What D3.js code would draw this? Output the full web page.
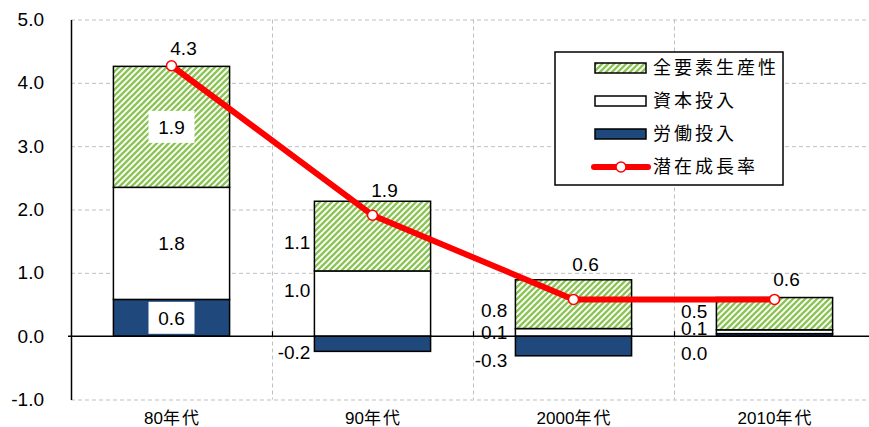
<!DOCTYPE html>
<html>
<head>
<meta charset="utf-8">
<script src="https://cdn.jsdelivr.net/npm/d3@7"></script>
<style>
  html, body { margin: 0; padding: 0; background: #fff; }
  svg { display: block; }
  text { font-family: "Liberation Sans", Arial, "Noto Sans CJK JP", sans-serif; fill: #000; }
</style>
</head>
<body>
<svg id="chart" width="869" height="427"></svg>
<script>
// ---- data ----
const categories = ["80年代", "90年代", "2000年代", "2010年代"];
const seriesNames = ["全要素生産性", "資本投入", "労働投入", "潜在成長率"];
const laborInput   = [0.58, -0.24, -0.31, 0.04];   // 労働投入
const capitalInput = [1.77, 1.03, 0.12, 0.06];     // 資本投入
const tfp          = [1.91, 1.10, 0.77, 0.51];     // 全要素生産性
const potentialGrowth = [4.27, 1.91, 0.58, 0.58];  // 潜在成長率
const yTicks = [-1, 0, 1, 2, 3, 4, 5];

// ---- label layout ----
const insideLabels = [true, false, false, false];      // 80年代 labels sit inside the bar
const sideGap = [0, 4, 8, 9];                          // gap between side labels and bar
const sideNudge = {                                    // vertical nudges of side labels
  tfp:     [0, 6, 6, -3],
  capital: [0, -13, 0, -4],
  labor:   [0, 8, 14, 18]
};
const totalLift = [18, 11, 16, 18];                    // total label above bar top

// ---- layout ----
const W = 869, H = 427;
const plot = { left: 71, right: 875, top: 19.5, bottom: 399.5 };
const svg = d3.select("#chart");

const x = d3.scaleBand().domain(categories).range([plot.left, plot.right]).padding(0);
const y = d3.scaleLinear().domain([-1, 5]).range([plot.bottom, plot.top]);
const barW = x.bandwidth() * 0.578;
const cx = c => x(c) + x.bandwidth() / 2;

const GREEN = "#8CC456", BLUE = "#1F497D", RED = "#FF0000";
const fmt1 = d3.format(".1f");
const fmt = v => fmt1(v).replace("\u2212", "-");   // plain hyphen for negatives

// hatch for 全要素生産性
const defs = svg.append("defs");
const pat = defs.append("pattern").attr("id", "hatch")
  .attr("patternUnits", "userSpaceOnUse").attr("width", 6).attr("height", 6);
pat.append("rect").attr("width", 6).attr("height", 6).attr("fill", "#fff");
pat.append("path").attr("d", "M-1,1 l2,-2 M0,6 l6,-6 M5,7 l2,-2")
  .attr("stroke", GREEN).attr("stroke-width", 2.4);

// text with CJK runs letter-spaced
function rich(sel, str, spacing = 3) {
  const runs = str.match(/[\x00-\x7F]+|[^\x00-\x7F]+/g) || [];
  runs.forEach(r => {
    const t = sel.append("tspan").text(r);
    if (/[^\x00-\x7F]/.test(r)) t.attr("letter-spacing", spacing);
  });
  return sel;
}

// ---- grid ----
const grid = svg.append("g").attr("stroke", "#BFBFBF").attr("stroke-width", 1)
  .attr("stroke-dasharray", "4,3").attr("fill", "none");
grid.selectAll("line.h").data(yTicks.filter(t => t !== 0)).join("line")
  .attr("x1", plot.left).attr("x2", plot.right)
  .attr("y1", d => y(d) + 0.5).attr("y2", d => y(d) + 0.5);
grid.selectAll("line.v").data(categories.slice(1)).join("line")
  .attr("x1", d => Math.round(x(d)) + 0.5).attr("x2", d => Math.round(x(d)) + 0.5)
  .attr("y1", plot.top).attr("y2", plot.bottom);

// ---- y axis ----
const yAxis = d3.axisLeft(y).tickValues(yTicks).tickFormat(fmt).tickSize(0).tickPadding(27);
const ya = svg.append("g").attr("transform", `translate(${plot.left},0)`).call(yAxis);
ya.select(".domain").attr("stroke", "#000").attr("stroke-width", 1.5);
ya.selectAll("text").attr("font-size", 19).attr("fill", "#000")
  .attr("font-family", "'Liberation Sans', Arial, sans-serif");

// ---- stacked bars ----
const stacks = categories.map((c, i) => {
  let pos = 0, neg = 0;
  const segs = [];
  [["labor", laborInput[i], BLUE], ["capital", capitalInput[i], "#fff"], ["tfp", tfp[i], "url(#hatch)"]]
    .forEach(([key, v, fill]) => {
      let y0, y1;
      if (v >= 0) { y0 = pos; y1 = pos + v; pos = y1; }
      else { y0 = neg + v; y1 = neg; neg = y0; }
      segs.push({ key, v, fill, y0, y1, cat: c, i });
    });
  return { cat: c, i, segs, top: pos };
});

const bars = svg.append("g");
stacks.forEach(s => {
  bars.selectAll(null).data(s.segs).join("rect")
    .attr("x", cx(s.cat) - barW / 2).attr("width", barW)
    .attr("y", d => y(d.y1)).attr("height", d => Math.max(0, y(d.y0) - y(d.y1)))
    .attr("fill", d => d.fill).attr("stroke", "#000").attr("stroke-width", 1.5);
});

// x axis at zero with inward ticks at category boundaries
const xa = svg.append("g");
xa.append("line").attr("x1", plot.left - 3).attr("x2", W + 10)
  .attr("y1", y(0)).attr("y2", y(0)).attr("stroke", "#000").attr("stroke-width", 1.5);
xa.selectAll("line.t").data(categories.slice(1)).join("line")
  .attr("x1", d => Math.round(x(d)) + 0.5).attr("x2", d => Math.round(x(d)) + 0.5)
  .attr("y1", y(0) - 5).attr("y2", y(0)).attr("stroke", "#000").attr("stroke-width", 1.2);

// category labels along the bottom
svg.append("g").selectAll("text").data(categories).join("text")
  .attr("x", d => cx(d) + 1).attr("y", 424).attr("text-anchor", "middle")
  .attr("font-size", 17)
  .each(function (d) { rich(d3.select(this), d, 2); });

// ---- segment labels ----
const segLabels = svg.append("g").attr("font-size", 19);
stacks.forEach(s => {
  s.segs.forEach(d => {
    const mid = (y(d.y0) + y(d.y1)) / 2;
    if (insideLabels[s.i]) {
      if (d.fill !== "#fff") {
        segLabels.append("rect").attr("x", cx(s.cat) - 23).attr("y", mid - 16)
          .attr("width", 46).attr("height", 32).attr("fill", "#fff");
      }
      segLabels.append("text").attr("x", cx(s.cat)).attr("y", mid)
        .attr("dy", "0.36em").attr("text-anchor", "middle").text(fmt(d.v));
    } else {
      segLabels.append("text")
        .attr("x", cx(s.cat) - barW / 2 - sideGap[s.i])
        .attr("y", mid + sideNudge[d.key][s.i])
        .attr("dy", "0.36em").attr("text-anchor", "end").text(fmt(d.v));
    }
  });
});

// ---- 潜在成長率 line ----
const pts = categories.map((c, i) => ({ x: cx(c), y: y(potentialGrowth[i]), v: potentialGrowth[i], i }));
svg.append("path").datum(pts)
  .attr("d", d3.line().x(d => d.x).y(d => d.y))
  .attr("fill", "none").attr("stroke", RED).attr("stroke-width", 6)
  .attr("stroke-linejoin", "round");
svg.append("g").selectAll("circle").data(pts).join("circle")
  .attr("cx", d => d.x).attr("cy", d => d.y).attr("r", 5)
  .attr("fill", "#fff").attr("stroke", RED).attr("stroke-width", 1.5);

svg.append("g").attr("font-size", 19).selectAll("text").data(pts).join("text")
  .attr("x", d => d.x + 12)
  .attr("y", d => Math.min(y(stacks[d.i].top), d.y) - totalLift[d.i])
  .attr("dy", "0.36em").attr("text-anchor", "middle")
  .text(d => fmt(d.v));

// ---- legend ----
const lg = svg.append("g");
lg.append("rect").attr("x", 555).attr("y", 52).attr("width", 228).attr("height", 133)
  .attr("fill", "#fff").attr("stroke", "#000").attr("stroke-width", 1.5);
const rowY = i => 68 + i * 33;
const swatchFill = ["url(#hatch)", "#fff", BLUE];
seriesNames.forEach((name, i) => {
  const g = lg.append("g");
  if (i < 3) {
    g.append("rect").attr("x", 595).attr("y", rowY(i) - 5).attr("width", 51).attr("height", 10)
      .attr("fill", swatchFill[i]).attr("stroke", "#000").attr("stroke-width", 1.5);
  } else {
    g.append("line").attr("x1", 594).attr("x2", 648).attr("y1", rowY(i)).attr("y2", rowY(i))
      .attr("stroke", RED).attr("stroke-width", 6).attr("stroke-linecap", "round");
    g.append("circle").attr("cx", 621).attr("cy", rowY(i)).attr("r", 5)
      .attr("fill", "#fff").attr("stroke", RED).attr("stroke-width", 1.5);
  }
  g.append("text").attr("x", 653).attr("y", rowY(i)).attr("dy", "0.36em")
    .attr("font-size", 18).attr("letter-spacing", 3).text(name);
});
</script>
</body>
</html>
